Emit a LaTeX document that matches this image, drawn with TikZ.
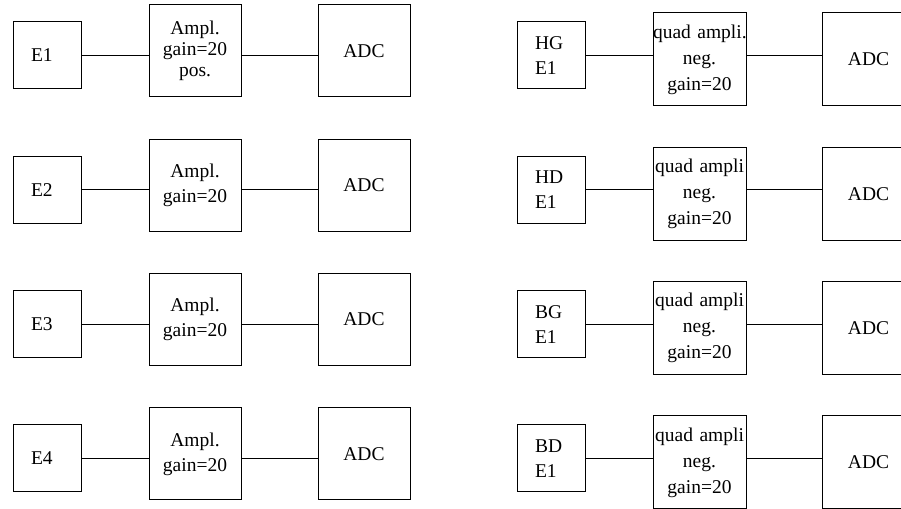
\documentclass[tikz,border=0pt]{standalone}
\usepackage{fontspec}
\setmainfont{Liberation Serif}
\usetikzlibrary{positioning}

\begin{document}
\begin{tikzpicture}[
  x=1pt,y=-1pt,
  every node/.style={line width=1pt},
  src/.style={draw,minimum width=68pt,minimum height=67pt,inner xsep=18pt,
              text width=32pt,align=left,font=\fontsize{19.5}{25}\selectfont},
  ampl/.style={draw,minimum width=92pt,minimum height=92pt,inner sep=0pt,
               align=center,font=\fontsize{19.5}{25}\selectfont},
  quad/.style={draw,minimum height=93pt,text width=93pt,inner xsep=0pt,
               align=center,font=\fontsize{19.5}{26}\selectfont},
  adc/.style={draw,minimum width=92pt,minimum height=92pt,inner sep=0pt,
              font=\fontsize{19.5}{25}\selectfont},
  adcq/.style={adc,minimum width=93pt,minimum height=93pt},
  wire/.style={line width=1pt}
]
\useasboundingbox (0,0) rectangle (901,508);
\clip (0,0) rectangle (901,508);

% left column
\node[src] (e1) at (47,55.5) {E1};
\node[ampl,right=67pt of e1,yshift=4.5pt,font=\fontsize{19.5}{21}\selectfont] (amp1) {Ampl.\\gain=20\\pos.};
\node[adc,right=76pt of amp1] (adc1) {ADC};

\node[src] (e2) at (47,189.8) {E2};
\node[ampl,right=67pt of e2,yshift=4.5pt] (amp2) {Ampl.\\gain=20};
\node[adc,right=76pt of amp2] (adc2) {ADC};

\node[src] (e3) at (47,324.1) {E3};
\node[ampl,right=67pt of e3,yshift=4.5pt] (amp3) {Ampl.\\gain=20};
\node[adc,right=76pt of amp3] (adc3) {ADC};

\node[src] (e4) at (47,458.4) {E4};
\node[ampl,right=67pt of e4,yshift=4.5pt] (amp4) {Ampl.\\gain=20};
\node[adc,right=76pt of amp4] (adc4) {ADC};

% right column
\node[src] (hg) at (551,55.5) {HG\\E1};
\node[quad,right=67pt of hg,yshift=-4pt] (qhg) {\mbox{quad ampli.}\\neg.\\gain=20};
\node[adcq,right=75pt of qhg] (adchg) {ADC};

\node[src] (hd) at (551,189.8) {HD\\E1};
\node[quad,right=67pt of hd,yshift=-4pt] (qhd) {\mbox{quad ampli}\\neg.\\gain=20};
\node[adcq,right=75pt of qhd] (adchd) {ADC};

\node[src] (bg) at (551,324.1) {BG\\E1};
\node[quad,right=67pt of bg,yshift=-4pt] (qbg) {\mbox{quad ampli}\\neg.\\gain=20};
\node[adcq,right=75pt of qbg] (adcbg) {ADC};

\node[src] (bd) at (551,458.4) {BD\\E1};
\node[quad,right=67pt of bd,yshift=-4pt] (qbd) {\mbox{quad ampli}\\neg.\\gain=20};
\node[adcq,right=75pt of qbd] (adcbd) {ADC};

% wires
\draw[wire] (e1.east) -- (e1.east -| amp1.west);
\draw[wire] (e1.east -| amp1.east) -- (e1.east -| adc1.west);
\draw[wire] (e2.east) -- (e2.east -| amp2.west);
\draw[wire] (e2.east -| amp2.east) -- (e2.east -| adc2.west);
\draw[wire] (e3.east) -- (e3.east -| amp3.west);
\draw[wire] (e3.east -| amp3.east) -- (e3.east -| adc3.west);
\draw[wire] (e4.east) -- (e4.east -| amp4.west);
\draw[wire] (e4.east -| amp4.east) -- (e4.east -| adc4.west);

\draw[wire] (hg.east) -- (hg.east -| qhg.west);
\draw[wire] (hg.east -| qhg.east) -- (hg.east -| adchg.west);
\draw[wire] (hd.east) -- (hd.east -| qhd.west);
\draw[wire] (hd.east -| qhd.east) -- (hd.east -| adchd.west);
\draw[wire] (bg.east) -- (bg.east -| qbg.west);
\draw[wire] (bg.east -| qbg.east) -- (bg.east -| adcbg.west);
\draw[wire] (bd.east) -- (bd.east -| qbd.west);
\draw[wire] (bd.east -| qbd.east) -- (bd.east -| adcbd.west);
\end{tikzpicture}
\end{document}
